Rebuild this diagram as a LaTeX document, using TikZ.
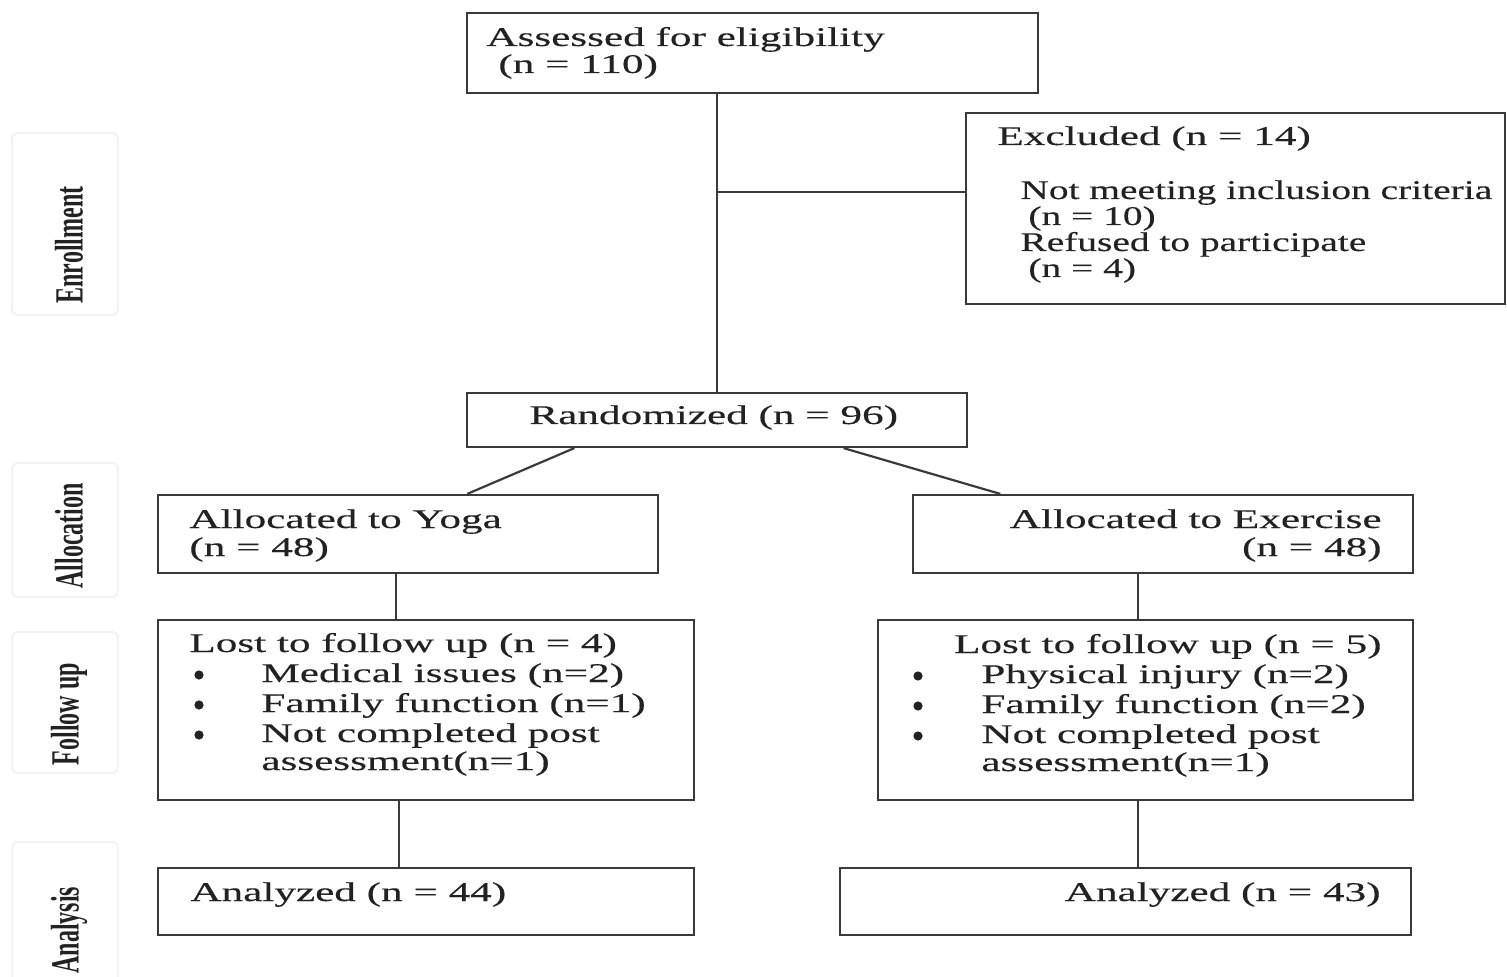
\documentclass[tikz,border=0pt]{standalone}
\usepackage{fontspec}
\setmainfont{Liberation Serif}
\newfontfamily\widefont[FakeStretch=1.6,FakeBold=0.3]{Liberation Serif}
\newfontfamily\widerfont[FakeStretch=1.46,FakeBold=0.3]{Liberation Serif}
\newfontfamily\sidefont[FakeStretch=0.6]{Liberation Serif Bold}
\usetikzlibrary{calc,fit}
\definecolor{ln}{HTML}{3A3A3A}
\definecolor{tx}{HTML}{222222}
\begin{document}
\begin{tikzpicture}[x=0.5pt,y=-0.5pt,
  box/.style={draw=ln,line width=1.1pt,inner sep=0pt,fill=white},
  side/.style={draw=gray!10,line width=1pt,rounded corners=3pt,inner sep=0pt},
  txt/.style={anchor=base west,inner sep=0pt,text=tx,font=\widefont\fontsize{13.5}{15}\selectfont},
  txtr/.style={anchor=base east,inner sep=0pt,text=tx,font=\widefont\fontsize{13.5}{15}\selectfont},
  txtx/.style={anchor=base west,inner sep=0pt,text=tx,font=\widerfont\fontsize{13.5}{15}\selectfont},
  bul/.style={circle,fill=tx,inner sep=0pt,minimum size=4.6pt},
  sidetxt/.style={rotate=90,inner sep=0pt,text=tx,font=\sidefont\fontsize{20}{22}\selectfont},
  conn/.style={draw=ln,line width=1.1pt}]
\useasboundingbox (0,0) rectangle (1507,977);
% side label boxes
\node[side,fit={(12,133)(118,315)}] (s1) {};
\node[side,fit={(12,463)(118,597)}] (s2) {};
\node[side,fit={(12,632)(118,773)}] (s3) {};
\node[side,fit={(12,842)(118,985)}] (s4) {};
\node[sidetxt] (l1) at (69,245) {Enrollment};
\node[sidetxt] (l2) at (69,536) {Allocation};
\node[sidetxt] (l3) at (69,714) {Follow up};
\node[sidetxt] (l4) at (69,930) {Analysis};
% boxes
\node[box,fit={(467,13)(1038,93)}] (assess) {};
\node[box,fit={(966,113)(1505,304)}] (excl) {};
\node[box,fit={(467,393)(967,447)}] (rand) {};
\node[box,fit={(158,495)(658,573)}] (yoga) {};
\node[box,fit={(913,495)(1413,573)}] (ex) {};
\node[box,fit={(158,620)(694,800)}] (losty) {};
\node[box,fit={(878,620)(1413,800)}] (loste) {};
\node[box,fit={(158,868)(694,935)}] (anay) {};
\node[box,fit={(840,868)(1411,935)}] (anae) {};
% texts
\node[txt] (t1) at (486,46) {Assessed for eligibility};
\node[txt] (t2) at (498,73) {(n = 110)};
\node[txt] (t3) at (997,145) {Excluded (n = 14)};
\node[txtx] (t4) at (1020,199) {Not meeting inclusion criteria};
\node[txtx] (t5) at (1028,225) {(n = 10)};
\node[txtx] (t6) at (1020,251) {Refused to participate};
\node[txtx] (t7) at (1028,277) {(n = 4)};
\node[txt] (t8) at (529,424) {Randomized (n = 96)};
\node[txt] (t9) at (189,528) {Allocated to Yoga};
\node[txt] (t10) at (189,556) {(n = 48)};
\node[txtr] (t11) at (1382,528) {Allocated to Exercise};
\node[txtr] (t12) at (1382,556) {(n = 48)};
\node[txt] (t13) at (189,652) {Lost to follow up (n = 4)};
\node[bul] (b1) at (199,675) {};
\node[txt] (t14) at (261,682) {Medical issues (n=2)};
\node[bul] (b2) at (199,705) {};
\node[txt] (t15) at (261,712) {Family function (n=1)};
\node[bul] (b3) at (199,735) {};
\node[txt] (t16) at (261,742) {Not completed post};
\node[txt] (t17) at (261,770) {assessment(n=1)};
\node[txtr] (t18) at (1382,653) {Lost to follow up (n = 5)};
\node[bul] (b4) at (918,676) {};
\node[txt] (t19) at (981,683) {Physical injury (n=2)};
\node[bul] (b5) at (918,706) {};
\node[txt] (t20) at (981,713) {Family function (n=2)};
\node[bul] (b6) at (918,736) {};
\node[txt] (t21) at (981,743) {Not completed post};
\node[txt] (t22) at (981,771) {assessment(n=1)};
\node[txt] (t23) at (190,901) {Analyzed (n = 44)};
\node[txtr] (t24) at (1381,901) {Analyzed (n = 43)};
% connectors
\draw[conn] (assess.south -| rand.north) -- (rand.north);
\coordinate (j) at (717,192);
\draw[conn] (j) -- (j -| excl.west);
\draw[conn] ($(rand.south west)!0.216!(rand.south east)$) -- ($(yoga.north west)!0.618!(yoga.north east)$);
\draw[conn] ($(rand.south west)!0.752!(rand.south east)$) -- ($(ex.north west)!0.176!(ex.north east)$);
\coordinate (p1) at ($(yoga.south west)!0.476!(yoga.south east)$);
\draw[conn] (p1) -- (p1 |- losty.north);
\coordinate (p2) at ($(ex.south west)!0.45!(ex.south east)$);
\draw[conn] (p2) -- (p2 |- loste.north);
\coordinate (p3) at ($(losty.south west)!0.45!(losty.south east)$);
\draw[conn] (p3) -- (p3 |- anay.north);
\coordinate (p4) at ($(loste.south west)!0.486!(loste.south east)$);
\draw[conn] (p4) -- (p4 |- anae.north);
\end{tikzpicture}
\end{document}
